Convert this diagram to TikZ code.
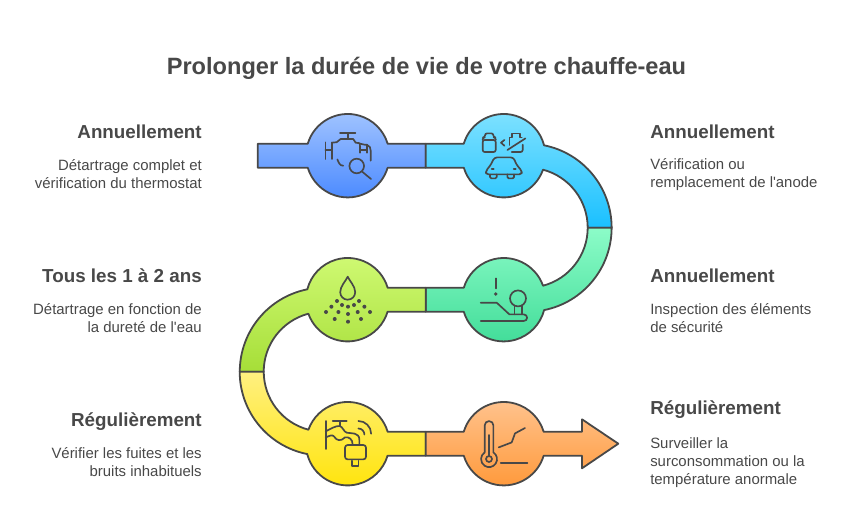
\documentclass[tikz,border=0pt]{standalone}
\usepackage{fontspec}
\setmainfont{Liberation Sans}
\definecolor{inkgrey}{HTML}{484848}
\tikzset{
    segment/.style={draw=inkgrey, line width=1.35pt, line join=round, shading angle=0},
    iconline/.style={draw=inkgrey, line width=1.25pt, line cap=round, line join=round},
    icondot/.style={fill=inkgrey, draw=none},
    titletext/.style={text=inkgrey, inner sep=0pt, font=\bfseries\fontsize{17.7}{22}\selectfont},
    headleft/.style={text=inkgrey, inner sep=0pt, anchor=east, font=\bfseries\fontsize{14.1}{16}\selectfont},
    headright/.style={text=inkgrey, inner sep=0pt, anchor=west, font=\bfseries\fontsize{14.1}{16}\selectfont},
    bodyleft/.style={text=inkgrey, inner sep=0pt, anchor=east, align=right, font=\fontsize{11.2}{13.5}\selectfont},
    bodyright/.style={text=inkgrey, inner sep=0pt, anchor=west, align=left, font=\fontsize{11.2}{13.5}\selectfont},
}
\begin{document}
\begin{tikzpicture}[x=0.75pt, y=0.75pt]
    \useasboundingbox (0,0) rectangle (852,519);

    \shade[segment, top color={rgb,255:red,163;green,197;blue,255}, bottom color={rgb,255:red,72;green,136;blue,255}]
        (257.7,375.3) -- (307.76,375.3) arc[start angle=163.3, end angle=16.7, radius=41.7]
        -- (425.7,375.3) -- (425.7,351.3) -- (387.64,351.3)
        arc[start angle=-16.7, end angle=-163.3, radius=41.7] -- (257.7,351.3) -- cycle;
    \shade[segment, top color={rgb,255:red,128;green,226;blue,255}, bottom color={rgb,255:red,26;green,192;blue,255}]
        (425.7,375.3) -- (463.76,375.3) arc[start angle=163.3, end angle=14.4, radius=41.7]
        arc[start angle=78.7, end angle=0, radius=84] -- (587.7,291.3)
        arc[start angle=0, end angle=75.2, radius=60]
        arc[start angle=-19.6, end angle=-163.3, radius=41.7] -- (425.7,351.3) -- cycle;
    \shade[segment, top color={rgb,255:red,140;green,252;blue,200}, bottom color={rgb,255:red,64;green,220;blue,152}]
        (587.7,291.3) arc[start angle=0, end angle=-75.2, radius=60]
        arc[start angle=19.6, end angle=163.3, radius=41.7] -- (425.7,231.3) -- (425.7,207.3) -- (463.76,207.3)
        arc[start angle=196.7, end angle=345.6, radius=41.7]
        arc[start angle=-78.7, end angle=0, radius=84] -- cycle;
    \shade[segment, top color={rgb,255:red,208;green,250;blue,116}, bottom color={rgb,255:red,166;green,222;blue,56}]
        (425.7,231.3) -- (387.64,231.3) arc[start angle=16.7, end angle=165.6, radius=41.7]
        arc[start angle=101.3, end angle=180, radius=84] -- (263.7,147.3)
        arc[start angle=180, end angle=104.8, radius=60]
        arc[start angle=199.6, end angle=343.3, radius=41.7] -- (425.7,207.3) -- cycle;
    \shade[segment, top color={rgb,255:red,255;green,240;blue,128}, bottom color={rgb,255:red,255;green,228;blue,10}]
        (239.7,147.3) arc[start angle=180, end angle=258.7, radius=84]
        arc[start angle=194.4, end angle=343.3, radius=41.7] -- (425.7,63.3) -- (425.7,87.3) -- (387.64,87.3)
        arc[start angle=16.7, end angle=160.4, radius=41.7]
        arc[start angle=255.2, end angle=180, radius=60] -- cycle;
    \shade[segment, top color={rgb,255:red,255;green,196;blue,144}, bottom color={rgb,255:red,255;green,152;blue,56}]
        (425.7,87.3) -- (463.76,87.3) arc[start angle=163.3, end angle=16.7, radius=41.7]
        -- (582,87.3) -- (582,99.7) -- (618.3,75.3) -- (582,50.7) -- (582,63.3) -- (543.64,63.3)
        arc[start angle=-16.7, end angle=-163.3, radius=41.7] -- (425.7,63.3) -- cycle;

    \begin{scope}[shift={(347.7,363.3)}]
        \draw[iconline] (-7.7,22.7) -- (7.7,22.7) (0,22.7) -- (0,16.7);
        \draw[iconline] (-22.3,13.3) -- (-22.3,-3.3) (-22.3,5.7) -- (-15.7,5.7) (-15.7,13.3) -- (-15.7,-3.3);
        \draw[iconline] (-15.7,13) -- (-11,13.5) -- (-7,16.7) -- (5.5,16.7) -- (8,13) -- (12,12.5) -- (12.3,9) -- (12.3,3);
        \draw[iconline] (12.3,5.7) -- (19,5.7) (19,11) -- (19,3);
        \draw[iconline] (12.3,12) -- (17,11) -- (19,11) .. controls (22,10) and (23,8) .. (23,5) -- (23,-5);
        \draw[iconline] (-10.3,-3.7) .. controls (-9,-7) and (-8,-10) .. (-4.5,-10);
        \draw[iconline] (9,-10.3) circle[radius=7.3];
        \draw[iconline] (14.5,-16) -- (23.3,-23.3);
    \end{scope}

    \begin{scope}[shift={(503.7,363.3)}]
        \draw[iconline, rounded corners=1.5pt] (-21,15.7) rectangle (-8,3.7);
        \draw[iconline, rounded corners=1.5pt] (-21,15.7) -- (-21,18.3) -- (-18.7,18.3) -- (-18.7,22.3) -- (-10.3,22.3) -- (-10.3,18.3) -- (-8,18.3) -- (-8,15.7);
        \draw[iconline] (0.7,15.7) -- (-2.7,13) -- (0.7,10);
        \draw[iconline] (3.7,5.7) -- (21.7,17.3);
        \draw[iconline] (5.7,10.7) -- (5.7,18.3) -- (8,18.3) -- (8,22.3) -- (16,22.3) -- (16,18.3) -- (18,18.3);
        \draw[iconline, rounded corners=1.5pt] (19,11) -- (19,3.7) -- (8,3.7);
        \draw[iconline, rounded corners=2pt] (-17.7,-15) -- (-17.7,-18.7) -- (18,-18.7) -- (18,-15) -- (13,-9.3) -- (9.7,-1.7) -- (-9.3,-1.7) -- (-13,-9.3) -- cycle;
        \draw[iconline] (-12,-13.5) -- (-10,-13.5) (10,-13.5) -- (12,-13.5);
        \draw[iconline, rounded corners=1pt] (-13.7,-18.7) -- (-13.7,-22.7) -- (-7,-22.7) -- (-7,-18.7);
        \draw[iconline, rounded corners=1pt] (3.7,-18.7) -- (3.7,-22.7) -- (10.3,-22.7) -- (10.3,-18.7);
    \end{scope}

    \begin{scope}[shift={(347.7,219.3)}]
        \draw[iconline] (0,23) .. controls (-2,18.5) and (-7.5,13.5) .. (-7.5,7.5) arc[start angle=180, end angle=360, radius=7.5] .. controls (7.5,13.5) and (2,18.5) .. (0,23) -- cycle;
        \foreach \dotx/\doty in {-10.7/-1.3, -16.3/-7, -5.7/-5.3, 0.3/-7, 6.3/-5.3, 11.3/-1.3, 16.7/-7, -21.7/-12.3, -9.3/-12.3, 0.3/-14.3, 10/-12.3, 22.3/-12.3, -13/-19.3, 13.3/-19.3, 0.3/-22}
            \fill[icondot] (\dotx,\doty) circle[radius=2];
    \end{scope}

    \begin{scope}[shift={(503.7,219.3)}]
        \draw[iconline] (-8,21.3) -- (-8,11.3);
        \fill[icondot] (-8,5.7) circle[radius=1.8];
        \draw[iconline] (-23,-3) -- (-7,-3) -- (5.7,-14.7) -- (20,-14.7) .. controls (24.5,-14.7) and (24.5,-21.3) .. (20,-21.3) -- (-23,-21.3);
        \draw[iconline] (14.3,1.3) circle[radius=8];
        \draw[iconline] (10.7,-5.7) -- (10.7,-14.7) (18,-5.7) -- (18,-14.7);
    \end{scope}

    \begin{scope}[shift={(347.7,75.3)}]
        \draw[iconline] (-22,22.7) -- (-22,-5.3);
        \draw[iconline] (-15,22.7) -- (-1,22.7) (-8,22.7) -- (-8,17.7);
        \draw[iconline] (-22,12.3) .. controls (-17,15) and (-12,18) .. (-8,17.7) .. controls (-5,17) and (-4,12) .. (-1,11) .. controls (3,10) and (11.7,12) .. (11.7,3.7) -- (11.7,-1.3);
        \draw[iconline] (-22,6.3) .. controls (-18,8) and (-15,9.5) .. (-13.5,7) .. controls (-11,3) and (-7,2) .. (-2.7,6.3) .. controls (1,7) and (5,5) .. (5,-1.3);
        \draw[iconline, rounded corners=2pt] (-2.7,-1.3) rectangle (18.3,-15.7);
        \draw[iconline] (4,-17) -- (4,-22.3) -- (10.7,-22.3) -- (10.7,-17);
        \draw[iconline] (10.7,22.7) arc[start angle=90, end angle=0, radius=12.7];
        \draw[iconline] (10.7,15.2) arc[start angle=90, end angle=0, radius=6];
    \end{scope}

    \begin{scope}[shift={(503.7,75.3)}]
        \draw[iconline] (-19,-8.7) -- (-19,18.3) arc[start angle=180, end angle=0, radius=4.35] -- (-10.3,-8.7)
            arc[start angle=57, end angle=-237, radius=8] -- cycle;
        \draw[iconline] (-14.7,8.7) -- (-14.7,-12);
        \draw[iconline] (-14.7,-15.3) circle[radius=3];
        \draw[iconline] (-5,-3.7) -- (8,1.3) -- (11.3,10.3) -- (21.3,15.7);
        \draw[iconline] (-3,-19.3) -- (23.7,-19.3);
    \end{scope}

    \node[titletext] (title) at (426.5,451) {Prolonger la durée de vie de votre chauffe-eau};

    \node[headleft] (headone) at (202,387) {Annuellement};
    \node[bodyleft] (bodyone) at (202,344.5) {Détartrage complet et\\vérification du thermostat};
    \node[headleft] (headtwo) at (202,243) {Tous les 1 à 2 ans};
    \node[bodyleft] (bodytwo) at (202,200.5) {Détartrage en fonction de\\la dureté de l\textquotesingle eau};
    \node[headleft] (headthree) at (202,97) {Régulièrement};
    \node[bodyleft] (bodythree) at (202,57) {Vérifier les fuites et les\\bruits inhabituels};

    \node[headright] (headfour) at (650,387) {Annuellement};
    \node[bodyright] (bodyfour) at (650,344.5) {Vérification ou\\remplacement de l\textquotesingle anode};
    \node[headright] (headfive) at (650,243) {Annuellement};
    \node[bodyright] (bodyfive) at (650,200.5) {Inspection des éléments\\de sécurité};
    \node[headright] (headsix) at (650,109) {Régulièrement};
    \node[bodyright] (bodysix) at (650,56.5) {Surveiller la\\surconsommation ou la\\température anormale};
\end{tikzpicture}
\end{document}
